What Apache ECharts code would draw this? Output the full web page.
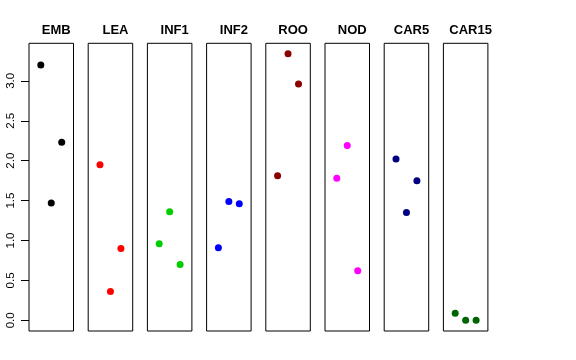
<!DOCTYPE html>
<html><head><meta charset="utf-8">
<script src="https://cdn.jsdelivr.net/npm/echarts@6/dist/echarts.min.js"></script>
<style>html,body{margin:0;padding:0;background:#fff}#c{width:576px;height:360px}</style>
</head><body><div id="c"></div>
<script>
const categories = ['EMB','LEA','INF1','INF2','ROO','NOD','CAR5','CAR15'];
const colors = ['#000000','#FF0000','#00CD00','#0000FF','#8B0000','#FF00FF','#000080','#006400'];
const xPositions = [0.265, 0.5, 0.735];
const valuesEMB = [3.20, 1.47, 2.23];
const valuesLEA = [1.95, 0.36, 0.90];
const valuesINF1 = [0.96, 1.36, 0.70];
const valuesINF2 = [0.91, 1.49, 1.46];
const valuesROO = [1.81, 3.34, 2.96];
const valuesNOD = [1.78, 2.19, 0.62];
const valuesCAR5 = [2.02, 1.35, 1.75];
const valuesCAR15 = [0.09, 0.0, 0.0];
const yTicks = [0, 0.5, 1, 1.5, 2, 2.5, 3];
const yTickLabels = ['0.0','0.5','1.0','1.5','2.0','2.5','3.0'];
const allValues = [valuesEMB, valuesLEA, valuesINF1, valuesINF2, valuesROO, valuesNOD, valuesCAR5, valuesCAR15];

const yMin = -0.1335, yMax = 3.4705;
const panelLeft0 = 29, panelStep = 59.2, panelW = 44.5, panelTop = 43.3, panelH = 287.7;
const fontFam = 'Liberation Sans, Arial, Helvetica, sans-serif';

const grids = [], xAxes = [], yAxes = [], seriesList = [], titles = [];
categories.forEach((c, i) => {
  const l = panelLeft0 + panelStep * i;
  grids.push({left: l, top: panelTop, width: panelW, height: panelH, show: true, borderColor: '#000', borderWidth: 1, containLabel: false});
  xAxes.push({type: 'value', gridIndex: i, min: 0, max: 1, show: false});
  const first = i === 0;
  yAxes.push({
    type: 'value', gridIndex: i, min: yMin, max: yMax,
    show: first,
    splitLine: {show: false},
    axisLine: {show: false},
    axisTick: first ? {show: true, length: 8, lineStyle: {color: '#000'}, customValues: yTicks} : {show: false},
    axisLabel: first ? {show: true, rotate: 90, margin: 12, color: '#000', fontSize: 11.5, fontFamily: fontFam,
      customValues: yTicks, formatter: v => { const k = yTicks.indexOf(Math.round(v * 10) / 10); return k >= 0 ? yTickLabels[k] : ''; }} : {show: false}
  });
  seriesList.push({
    type: 'scatter', xAxisIndex: i, yAxisIndex: i, symbol: 'circle', symbolSize: 7,
    itemStyle: {color: colors[i], opacity: 1}, silent: true,
    data: allValues[i].map((v, k) => [xPositions[k], v])
  });
  titles.push({text: c, left: l + panelW / 2, top: 19, textAlign: 'center',
    textStyle: {fontSize: 13, fontWeight: 'bold', color: '#000', fontFamily: fontFam}});
});

const chart = echarts.init(document.getElementById('c'), null, {renderer: 'canvas'});
chart.setOption({animation: false, backgroundColor: '#fff', title: titles, grid: grids, xAxis: xAxes, yAxis: yAxes, series: seriesList});
</script></body></html>
